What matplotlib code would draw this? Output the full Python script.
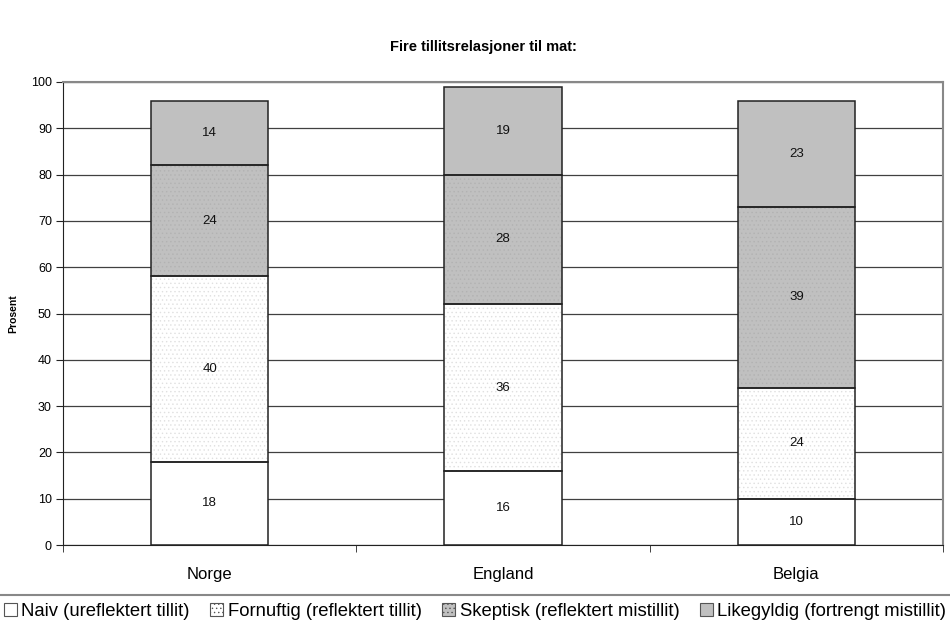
import matplotlib
matplotlib.use("Agg")
import matplotlib.pyplot as plt
from matplotlib.patches import Patch
import numpy as np

categories = ["Norge", "England", "Belgia"]
series_names = ["Naiv (ureflektert tillit)", "Fornuftig (reflektert tillit)",
                "Skeptisk (reflektert mistillit)", "Likegyldig (fortrengt mistillit)"]
naiv = [18, 16, 10]
fornuftig = [40, 36, 24]
skeptisk = [24, 28, 39]
likegyldig = [14, 19, 23]
yticks = list(range(0, 101, 10))

plt.rcParams['font.family'] = ['Liberation Sans', 'DejaVu Sans']
plt.rcParams['hatch.linewidth'] = 0.5

fig = plt.figure(figsize=(9.5, 6.3), dpi=100)
ax = fig.add_axes([63/950, 85/630, 880/950, 463/630])

x = np.arange(len(categories))
width = 0.4
series = [naiv, fornuftig, skeptisk, likegyldig]
faces = ["white", "white", "#c0c0c0", "#c0c0c0"]
hatches = [None, "....", "....", None]
hatch_cols = ["white", "#e0e0e0", "#b2b2b2", "#c0c0c0"]

ax.set_axisbelow(True)
ax.yaxis.grid(True, color="#404040", linewidth=0.9)
bottom = np.zeros(len(categories))
for vals, fc, h, hc in zip(series, faces, hatches, hatch_cols):
    v = np.array(vals, dtype=float)
    ax.bar(x, v, width, bottom=bottom, color=fc, hatch=h, edgecolor=hc, linewidth=0, zorder=2)
    ax.bar(x, v, width, bottom=bottom, fill=False, edgecolor="#222222", linewidth=1.1, zorder=3)
    for xi, b, vi in zip(x, bottom, v):
        ax.text(xi, b + vi / 2, f"{int(vi)}", ha="center", va="center", fontsize=9.5, color="#111111", zorder=4)
    bottom += v

ax.set_xlim(-0.5, 2.5)
ax.set_ylim(0, 100)
ax.set_yticks(yticks)
ax.set_yticklabels([str(t) for t in yticks], fontsize=9)
ax.set_xticks(x)
ax.set_xticklabels(categories, fontsize=12)
ax.set_xticks([-0.5, 0.5, 1.5, 2.5], minor=True)
ax.tick_params(axis="x", which="major", length=0, pad=16)
ax.tick_params(axis="x", which="minor", length=5, direction="out", color="#222222")
ax.tick_params(axis="y", length=5, direction="out", color="#222222", pad=3)
ax.spines["left"].set_color("#222222")
ax.spines["bottom"].set_color("#222222")
ax.spines["top"].set_color("#888888")
ax.spines["right"].set_color("#888888")
ax.spines["top"].set_linewidth(1.5)
ax.spines["right"].set_linewidth(1.5)

ax.set_ylabel("Prosent", fontsize=7.5, fontweight="bold", labelpad=2)
ax.yaxis.set_label_coords(-45/880, 0.5)

fig.text(483/950, 1 - 47/630, "Fire tillitsrelasjoner til mat:", ha="center", va="center",
         fontsize=10.5, fontweight="bold")

# legend separator line
fig.add_artist(plt.Line2D([0, 1], [1 - 595/630, 1 - 595/630], color="#888888", linewidth=1.5,
                          transform=fig.transFigure))

handles = [Patch(facecolor=fc, edgecolor="#555555", hatch=h, linewidth=0.8)
           for fc, h in zip(faces, hatches)]
leg = fig.legend(handles, series_names, loc="center", bbox_to_anchor=(0.5, 1 - 611/630),
                 ncol=4, frameon=False, handlelength=0.7, handleheight=0.7,
                 handletextpad=0.25, columnspacing=1.1,
                 prop={'family': ['Liberation Sans', 'DejaVu Sans'], 'size': 13.3})

fig.savefig("out.png", dpi=100)
